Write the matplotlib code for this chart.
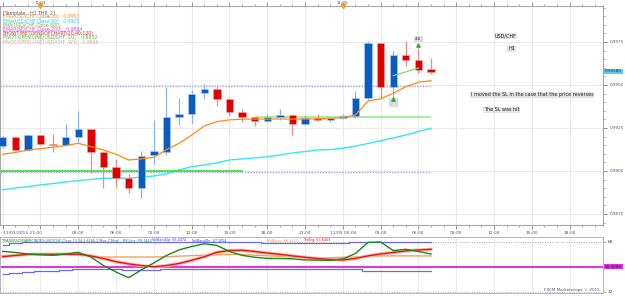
import matplotlib.pyplot as plt
import matplotlib.transforms as mtransforms
import numpy as np

# USD/CHF H1 candles, 11/03 21:00 -> 11/05 07:00
opens = [0.99145, 0.99196, 0.99122, 0.99208, 0.99158, 0.99151, 0.99199, 0.99242, 0.99109, 0.99021,
         0.98958, 0.98903, 0.99093, 0.99112, 0.99316, 0.99330, 0.99452, 0.99478, 0.99420, 0.99341,
         0.99312, 0.99289, 0.99312, 0.99324, 0.99275, 0.99308, 0.99297, 0.99310, 0.99320, 0.99426,
         0.99742, 0.99490, 0.99674, 0.99645, 0.99591]
highs = [0.99203, 0.99200, 0.99217, 0.99210, 0.99215, 0.99273, 0.99349, 0.99244, 0.99112, 0.99070,
         0.98983, 0.99116, 0.99295, 0.99490, 0.99423, 0.99471, 0.99506, 0.99494, 0.99425, 0.99362,
         0.99315, 0.99331, 0.99362, 0.99330, 0.99324, 0.99331, 0.99315, 0.99330, 0.99465, 0.99758,
         0.99745, 0.99698, 0.99758, 0.99717, 0.99659]
lows = [0.99134, 0.99122, 0.99118, 0.99151, 0.99109, 0.99150, 0.99170, 0.98990, 0.98903, 0.98903,
        0.98870, 0.98845, 0.99041, 0.99093, 0.99267, 0.99277, 0.99417, 0.99380, 0.99320, 0.99287,
        0.99263, 0.99286, 0.99297, 0.99209, 0.99269, 0.99290, 0.99285, 0.99305, 0.99310, 0.99413,
        0.99426, 0.99426, 0.99612, 0.99568, 0.99562]
closes = [0.99196, 0.99122, 0.99208, 0.99155, 0.99153, 0.99196, 0.99242, 0.99109, 0.99021, 0.98961,
          0.98903, 0.99089, 0.99116, 0.99314, 0.99330, 0.99448, 0.99478, 0.99420, 0.99341, 0.99314,
          0.99289, 0.99312, 0.99324, 0.99275, 0.99306, 0.99295, 0.99310, 0.99320, 0.99423, 0.99742,
          0.99490, 0.99674, 0.99645, 0.99587, 0.99577]

ema20 = [0.99097, 0.99108, 0.99122, 0.99130, 0.99138, 0.99148, 0.99161, 0.99142, 0.99122, 0.99097,
         0.99064, 0.99070, 0.99080, 0.99124, 0.99161, 0.99209, 0.99262, 0.99287, 0.99297, 0.99301,
         0.99302, 0.99302, 0.99302, 0.99302, 0.99302, 0.99303, 0.99306, 0.99310, 0.99326, 0.99407,
         0.99419, 0.99452, 0.99490, 0.99516, 0.99525]
ema50 = [0.98891, 0.98901, 0.98909, 0.98919, 0.98927, 0.98936, 0.98944, 0.98951, 0.98958, 0.98958,
         0.98958, 0.98965, 0.98971, 0.98983, 0.99006, 0.99025, 0.99035, 0.99047, 0.99064, 0.99070,
         0.99076, 0.99083, 0.99093, 0.99105, 0.99113, 0.99122, 0.99125, 0.99132, 0.99145, 0.99160,
         0.99176, 0.99192, 0.99209, 0.99230, 0.99248]

# pivot-open lines: (start index, end index, level)
pivot_w1 = (-0.3, 19.1, 0.99002)
pivot_d1 = (20.0, 34.0, 0.99316)
dotted_levels = [0.99496, 0.98996]
trend_x = [31, 33]
trend_y = [0.99554, 0.99599]
last_price = 0.99580

# Traders Dynamic Index panel
rsi_line = [61.2, 60.4, 59.3, 58.7, 58.3, 59.3, 60.5, 57.1, 50.9, 46.2,
            42.1, 47.7, 52.8, 58.2, 62.3, 64.7, 66.7, 65.5, 61.1, 58.3,
            56.9, 56.1, 56.0, 55.8, 55.0, 54.8, 54.7, 55.7, 59.6, 67.7,
            68.0, 61.8, 62.7, 61.1, 59.3]
trd_sig = [57.4, 58.2, 59.0, 59.1, 59.1, 59.1, 59.1, 57.9, 56.0, 53.7,
           52.1, 50.9, 50.0, 50.9, 52.4, 54.7, 57.3, 60.5, 61.8, 62.0,
           61.1, 60.0, 59.0, 57.9, 56.9, 56.0, 55.3, 54.9, 56.1, 57.9,
           59.3, 60.4, 61.5, 62.2, 62.7]
mid_base = [57.9, 58.2, 58.5, 58.7, 59.0, 59.1, 58.4, 57.7, 57.1, 57.1,
            57.1, 57.1, 57.1, 57.3, 57.7, 58.1, 58.4, 58.7, 59.0, 58.9,
            58.4, 58.0, 57.5, 57.1, 56.8, 56.3, 56.6, 56.9, 57.1, 57.7,
            57.9, 57.9, 57.9, 57.9, 57.9]
band_up = [66.1, 67.2, 68.0, 68.0, 68.0, 68.0, 68.0, 67.7, 67.7, 67.7,
           67.7, 67.7, 67.7, 68.0, 68.0, 68.0, 68.0, 68.0, 68.0, 68.0,
           68.0, 67.2, 67.2, 67.2, 67.2, 67.2, 67.2, 67.2, 68.0, 68.3,
           68.3, 68.3, 68.3, 68.3, 68.3]
band_dn = [45.0, 45.5, 46.2, 46.6, 47.3, 47.9, 48.2, 48.4, 48.4, 48.4,
           47.7, 47.7, 47.7, 48.2, 48.2, 48.2, 48.7, 48.7, 48.7, 48.7,
           48.7, 48.7, 48.7, 48.7, 48.7, 48.1, 48.1, 48.1, 48.1, 47.0,
           47.0, 47.0, 47.0, 47.0, 47.0]

tick_pos = list(range(0, 48, 3))
tick_labels = ["11/03/2015 21:00", "", "03:00", "06:00", "09:00", "12:00", "15:00", "18:00",
               "21:00", "11/05 00:00", "03:00", "06:00", "09:00", "12:00", "15:00", "18:00"]
date_marks = [(3, "11/04"), (27, "11/05")]
price_ticks = [0.9875, 0.9900, 0.9925, 0.9950, 0.9975]

legend_lines = [
    ("[Template : H1 THR_2]", "#4a5a8a"),
    ("EMA(USD/CHF,Close,20) : 0.9953", "#ff8c1a"),
    ("EMA(USD/CHF,Close,50) : 0.9925", "#1fd3e6"),
    ("EMA(USD/CHF,Close,800)", "#a0a040"),
    ("EMA(USD/CHF,Close,200) : 0.9894", "#e040e0"),
    ("SHOWTIMETOENDOFCHART(20,40,120)", "#e02020"),
    ("PIVOT-OPEN LINE(USD/CHF, D1) : 0.9932", "#30c030"),
    ("PIVOT-OPEN LINE(USD/CHF, W1) : 0.9866", "#f0a0a0"),
]

W, H = 625, 296
fig = plt.figure(figsize=(W / 100, H / 100), dpi=100)
fig.patch.set_facecolor("white")

ax = fig.add_axes([0, 1 - 225 / H, 603 / W, (225 - 6) / H])
ax2 = fig.add_axes([0, 1 - 293 / H, 603 / W, (293 - 237) / H])

x = np.arange(len(opens))
o = np.array(opens); c = np.array(closes)
up = c >= o

xmin, xmax = -0.214, 47.65
ax.set_xlim(xmin, xmax)
ax.set_ylim(0.98686, 0.99959)

# grid
for p in tick_pos:
    ax.axvline(p, color="#ebebeb", lw=0.8, zorder=0)
for p in price_ticks:
    ax.axhline(p, color="#ebebeb", lw=0.8, zorder=0)

# moving averages + levels
ax.plot(x, ema50, color="#33e8f2", lw=1.0, zorder=2)
for lvl in dotted_levels:
    ax.hlines(lvl, xmin, 34, color="#a8a8dc", lw=1.0, linestyles=(0, (1, 1)), zorder=1)
ax.hlines(pivot_w1[2], pivot_w1[0], pivot_w1[1], color="#22dd22", lw=1.1, zorder=2)
ax.hlines(pivot_d1[2], pivot_d1[0], pivot_d1[1], color="#8ee88e", lw=1.1, zorder=2)

# candles
wick_col = np.where(up, "#8ab6e8", "#ee8a8a")
body_col = np.where(up, "#0b5cc0", "#e00000")
edge_col = np.where(up, "#b0cdef", "#f4a8a8")
ax.vlines(x, lows, highs, colors=wick_col, lw=0.9, zorder=3)
heights = np.maximum(np.abs(c - o), 0.00004)
ax.bar(x, heights, bottom=np.minimum(o, c), width=0.58, color=body_col,
       edgecolor=edge_col, linewidth=0.4, zorder=4)

ax.plot(x, ema20, color="#ff8a10", lw=0.9, zorder=5)
ax.plot(trend_x, trend_y, color="#7ee060", lw=0.9, zorder=5)

# trade markers
ax.plot(31, 0.99401, marker="s", ms=6, color="#dcdcdc", zorder=6)
ax.plot(31, 0.99418, marker="^", ms=2.5, color="#3cb030", zorder=7)
ax.text(33, 0.99768, "4.6", fontsize=3.0, ha="center", va="center", color="#333333", zorder=7,
        bbox=dict(boxstyle="square,pad=0.3", fc="#dcdcdc", ec="none"))
ax.plot(33, 0.99735, marker="^", ms=2.5, color="#3cb030", zorder=7)

# notes
box = dict(boxstyle="square,pad=0.15", fc="#e4e4e4", ec="none")
ax.text(39.9, 0.99785, "USD/CHF", fontsize=3.5, ha="center", va="center", color="#222222", bbox=box)
ax.text(40.4, 0.99711, "H1", fontsize=3.5, ha="center", va="center", color="#222222", bbox=box)
ax.text(42.0, 0.99442, "I moved the SL in the case that the price reverses", fontsize=3.5,
        ha="center", va="center", color="#222222", bbox=box)
ax.text(39.6, 0.99356, "The SL was hit", fontsize=3.5, ha="center", va="center",
        color="#222222", bbox=box)

# axes styling
for s in ax.spines.values():
    s.set_color("#a8a8a8")
    s.set_linewidth(0.8)
ax.set_xticks(tick_pos)
ax.set_xticklabels(tick_labels)
ax.set_xticks(np.arange(0, 48, 1), minor=True)
ax.tick_params(axis="x", which="major", direction="out", length=3, width=0.6, color="#808080",
               labelsize=3.2, labelcolor="#505080", pad=1.2, top=True)
ax.tick_params(axis="x", which="minor", direction="out", length=1.5, width=0.5, color="#808080", top=True)
ax.get_xticklabels()[0].set_ha("left")
ax.yaxis.tick_right()
ax.set_yticks(price_ticks)
ax.set_yticklabels([f"{p:.4f}" for p in price_ticks])
ax.set_yticks(np.arange(0.9870, 0.9996, 0.0005), minor=True)
ax.tick_params(axis="y", which="major", direction="out", length=3, width=0.6, color="#808080",
               labelsize=3.0, labelcolor="#50508a", pad=1.5)
ax.tick_params(axis="y", which="minor", direction="out", length=1.5, width=0.5, color="#808080")
ax.annotate(f"{last_price:.5f}", xy=(1, last_price), xycoords=("axes fraction", "data"),
            xytext=(1.5, 0), textcoords="offset points", va="center", fontsize=3.0,
            color="#203060", bbox=dict(boxstyle="square,pad=0.15", fc="#5cc8f2", ec="none"))

trans = mtransforms.blended_transform_factory(ax.transData, ax.transAxes)
for pos, lab in date_marks:
    ax.plot(pos, 1, marker="v", ms=3, color="#f0a020", transform=trans, clip_on=False, zorder=8)
    ax.text(pos, 1.006, lab, transform=trans, fontsize=3.0, ha="center", va="bottom", color="#505080")

for k, (txt, col) in enumerate(legend_lines):
    fig.text(3 / W, 1 - (12.7 + 4.2 * k) / H, txt, fontsize=3.3, color=col, va="center")

# indicator panel
ax2.set_xlim(xmin, xmax)
ax2.set_ylim(31.0, 71.6)
for p in tick_pos:
    ax2.axvline(p, color="#ebebeb", lw=0.8, zorder=0)
ax2.axhline(68, color="#b0b0b0", lw=0.7, ls=(0, (1, 1.5)), zorder=1)
ax2.axhline(32, color="#b0b0b0", lw=0.7, ls=(0, (1, 1.5)), zorder=1)
ax2.axhline(50, color="#e020e0", lw=1.3, zorder=2)
ax2.plot(x, band_up, color="#6a6af0", lw=0.9, drawstyle="steps-mid", zorder=3)
ax2.plot(x, band_dn, color="#6a6af0", lw=0.9, drawstyle="steps-mid", zorder=3)
ax2.plot(x, mid_base, color="#f4a060", lw=1.0, zorder=3)
ax2.plot(x, trd_sig, color="#f8b8a8", lw=2.4, zorder=3)
ax2.plot(x, trd_sig, color="#ee1010", lw=1.0, zorder=4)
ax2.plot(x, rsi_line, color="#1a8a1a", lw=1.0, zorder=5)
for s in ax2.spines.values():
    s.set_color("#b8b8b8")
    s.set_linewidth(0.7)
ax2.set_xticks([])
ax2.yaxis.tick_right()
ax2.set_yticks([68, 32])
ax2.set_yticklabels(["68", "32"])
ax2.tick_params(axis="y", direction="out", length=2, width=0.5, color="#808080",
                labelsize=3.0, labelcolor="#303030", pad=1.5)
ax2.annotate("50.0000", xy=(1, 50), xycoords=("axes fraction", "data"), xytext=(1.5, 0),
             textcoords="offset points", va="center", fontsize=3.0, color="#300030",
             bbox=dict(boxstyle="square,pad=0.15", fc="#e030e0", ec="none"))

tdi_parts = [
    (2, "TRADERSDYNAMICINDEX(USD/CHF,Close,13,34,1.6185,2,Mva,7,Mva) - RSILine: 59.7443", "#1a8a1a"),
    (152, "VolBandUp: 66.4474", "#4040e0"),
    (192, "VolBandDn: 47.1054", "#4040e0"),
    (267, "MidBase: 56.3113", "#f09050"),
    (304, "TrdSig: 63.6453", "#ee1010"),
]
for px, txt, col in tdi_parts:
    fig.text(px / W, 1 - 240.5 / H, txt, fontsize=2.45, color=col, va="center")

fig.text(600 / W, 1 - 290 / H, "FXCM Marketscope \u00a9 2015", fontsize=3.0, color="#505080",
         ha="right", va="center")

fig.savefig("out.png", dpi=100)
